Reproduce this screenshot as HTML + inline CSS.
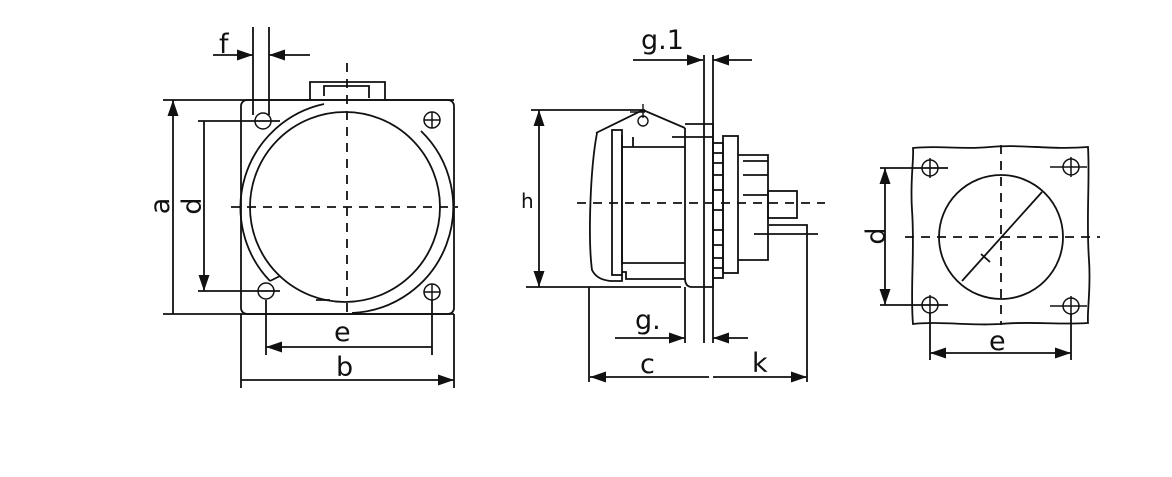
<!DOCTYPE html>
<html><head><style>html,body{margin:0;padding:0;background:#fff}svg{display:block}</style></head>
<body>
<svg width="1172" height="477" viewBox="0 0 1172 477" xmlns="http://www.w3.org/2000/svg">
<defs>
<marker id="a" viewBox="0 0 16 11" refX="16" refY="5.5" markerWidth="16" markerHeight="11" markerUnits="userSpaceOnUse" orient="auto-start-reverse"><path d="M0,0L16,5.5L0,11z" fill="#111"/></marker>
</defs>
<g fill="none" stroke="#111" stroke-width="1.8" font-family="Liberation Sans, sans-serif">
<!-- LEFT VIEW -->
<rect x="241" y="100" width="213" height="214" rx="6"/>
<path d="M310,100V82H385V100M324,96V86H369V98"/>
<path d="M324,104A106,106 0 0 0 270,281M421,131A106,106 0 0 1 352,313"/>
<circle cx="345" cy="207" r="95"/>
<path d="M270,281L280,276M316,300H330"/>
<g stroke-width="1.5">
<circle cx="263" cy="121" r="8"/><circle cx="432" cy="120" r="8"/>
<circle cx="266" cy="291" r="8"/><circle cx="432" cy="292" r="8"/>
<path d="M424,120h16M432,112v16M432,284v16M424,292h16"/>
</g>
<path d="M347,63V315M231,207H458" stroke-dasharray="9,7"/>
<path d="M163,100H454M163,314H454M198,121H280M198,291H280"/>
<path d="M173,100V314M204,121V291" marker-start="url(#a)" marker-end="url(#a)"/>
<path d="M253,27V115M269,27V115"/>
<path d="M213,55H253" marker-end="url(#a)"/><path d="M310,55H269" marker-end="url(#a)"/>
<path d="M266,300V355M432,300V355M241,314V388M454,314V388"/>
<path d="M266,347H432M241,380H454" marker-start="url(#a)" marker-end="url(#a)"/>
<!-- MIDDLE VIEW -->
<path d="M704,55V343M713,55V343"/>
<path d="M633,60H703" marker-end="url(#a)"/><path d="M752,60H713" marker-end="url(#a)"/>
<path d="M531,110H645M526,287H681"/>
<path d="M539,110V287" marker-start="url(#a)" marker-end="url(#a)"/>
<path d="M597,133C590,170 588,240 592,270C596,278 603,280 610,281H622V275"/>
<path d="M596,133L643,110L685,128"/>
<rect x="612" y="130" width="10" height="145"/>
<path d="M622,135V265M622,147H633V137M633,147H685M622,263H685M622,272H626V279H685"/>
<path d="M685,128V280M685,124H713V287H692Q685,287 685,278"/>
<path d="M630,112h15M643,104v14" stroke-width="1.4"/><circle cx="643" cy="121" r="5" stroke-width="1.4"/>
<path d="M672,137H713"/>
<rect x="713" y="143" width="10" height="135"/>
<path d="M713,153h10M713,163h10M713,175h10M713,190h10M713,210h10M713,230h10M713,245h10M713,258h10M713,268h10"/>
<rect x="723" y="136" width="15" height="137"/>
<path d="M738,155H768V260H738M743,161H768M743,175H768M743,195H768"/>
<rect x="768" y="191" width="29" height="27"/>
<path d="M577,203H825" stroke-dasharray="9,7"/>
<path d="M769,225H807V382M754,234H818"/>
<path d="M685,287V343M589,287V382"/>
<path d="M615,338H685" marker-end="url(#a)"/><path d="M748,338H713" marker-end="url(#a)"/>
<path d="M590,377H709M713,377H807" marker-start="url(#a)" marker-end="url(#a)"/>
<!-- RIGHT VIEW -->
<path d="M913,148C940,145 960,150 990,147C1020,144 1050,150 1088,147C1090,180 1086,220 1089,260C1091,290 1087,310 1088,323C1060,325 1030,321 1000,324C970,326 940,321 913,324C910,290 915,250 912,210C910,180 914,160 913,148Z"/>
<g stroke-width="1.5">
<circle cx="930" cy="168" r="8"/><circle cx="1071" cy="167" r="8"/>
<circle cx="930" cy="305" r="8"/><circle cx="1071" cy="306" r="8"/>
<path d="M930,158v20M1071,157v20M1071,296v20M1050,167h37M1050,306h37M930,295v20"/>
</g>
<circle cx="1001" cy="237" r="62"/>
<path d="M962,281L1042,192M981,254l9,8"/>
<path d="M1001,145V325M905,237H1100" stroke-dasharray="9,7"/>
<path d="M880,168H948M880,305H948"/>
<path d="M885,168V305" marker-start="url(#a)" marker-end="url(#a)"/>
<path d="M930,313V360M1071,314V360"/>
<path d="M930,353H1071" marker-start="url(#a)" marker-end="url(#a)"/>
</g>
<g font-family="DejaVu Sans, Liberation Sans, sans-serif" font-size="27" fill="#111">
<text x="219" y="53">f</text>
<text x="334" y="341">e</text>
<text x="336" y="376">b</text>
<text transform="translate(169,206) rotate(-90)" text-anchor="middle">a</text>
<text transform="translate(201,206) rotate(-90)" text-anchor="middle">d</text>
<text x="641" y="49">g.1</text>
<text x="521" y="208" font-size="20">h</text>
<text x="635" y="329">g.</text>
<text x="640" y="373">c</text>
<text x="752" y="372">k</text>
<text transform="translate(885,236) rotate(-90)" text-anchor="middle">d</text>
<text x="989" y="350">e</text>
</g>
</svg>
</body></html>
